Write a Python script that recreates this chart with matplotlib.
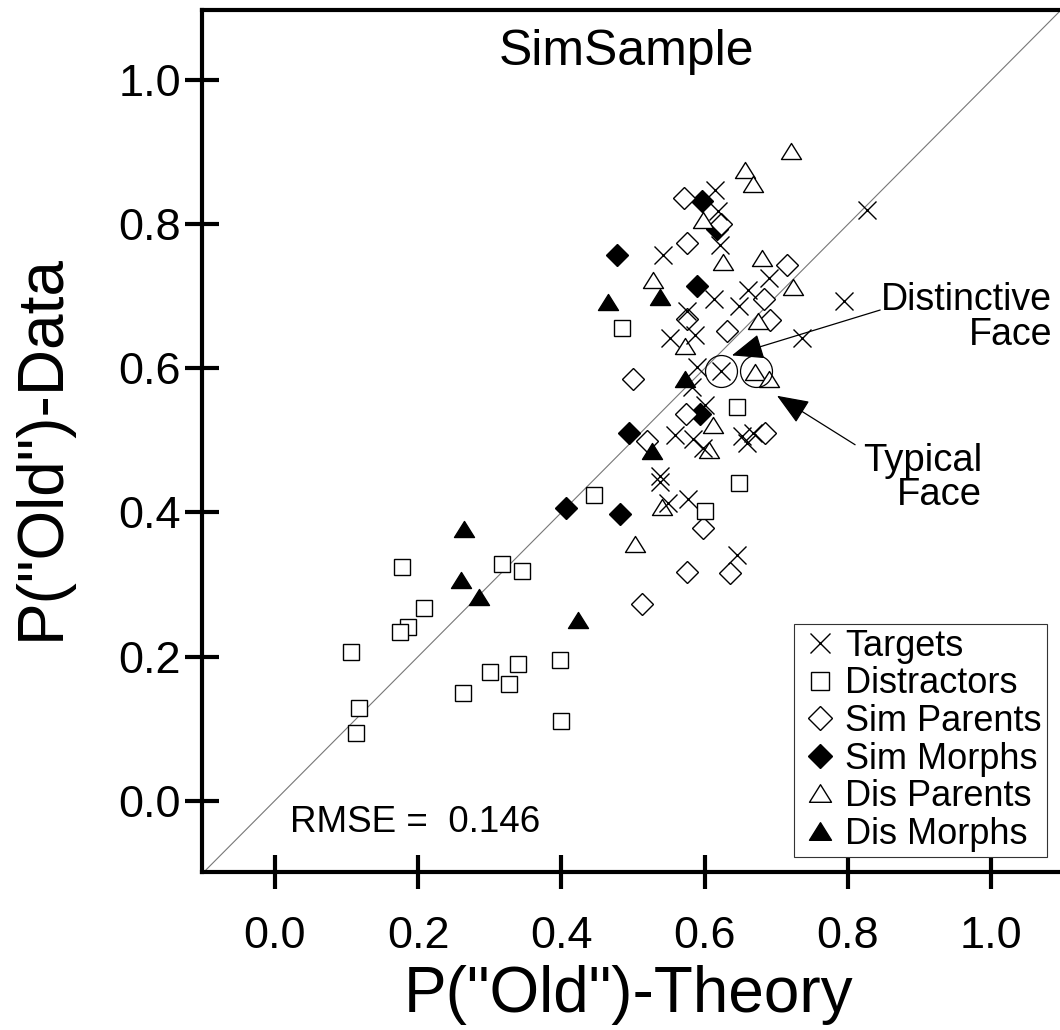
import matplotlib.pyplot as plt
from matplotlib.path import Path

plt.rcParams['font.family'] = ['Liberation Sans', 'DejaVu Sans']

# P("Old") theory (x) vs data (y), one pair of lists per item type
targets_x = [0.826, 0.794, 0.736, 0.615, 0.619, 0.622, 0.542, 0.690, 0.661, 0.648,
             0.613, 0.575, 0.587, 0.552, 0.589, 0.623, 0.582, 0.601, 0.559, 0.584,
             0.598, 0.652, 0.659, 0.668, 0.538, 0.537, 0.549, 0.577, 0.645]
targets_y = [0.820, 0.693, 0.642, 0.847, 0.818, 0.771, 0.758, 0.726, 0.709, 0.687,
             0.696, 0.679, 0.646, 0.642, 0.602, 0.597, 0.574, 0.549, 0.507, 0.502,
             0.489, 0.506, 0.496, 0.510, 0.451, 0.442, 0.413, 0.419, 0.341]

distractors_x = [0.484, 0.645, 0.648, 0.601, 0.445, 0.317, 0.345, 0.177, 0.208, 0.186,
                 0.175, 0.106, 0.118, 0.113, 0.263, 0.300, 0.340, 0.327, 0.398, 0.399]
distractors_y = [0.656, 0.546, 0.441, 0.402, 0.424, 0.329, 0.319, 0.324, 0.268, 0.241,
                 0.234, 0.206, 0.128, 0.094, 0.150, 0.179, 0.189, 0.162, 0.195, 0.111]

sim_parents_x = [0.571, 0.623, 0.576, 0.715, 0.683, 0.691, 0.575, 0.631, 0.500, 0.574,
                 0.519, 0.684, 0.597, 0.576, 0.635, 0.513]
sim_parents_y = [0.836, 0.800, 0.774, 0.744, 0.696, 0.667, 0.668, 0.652, 0.585, 0.537,
                 0.499, 0.510, 0.379, 0.317, 0.316, 0.273]

sim_morphs_x = [0.596, 0.617, 0.478, 0.589, 0.593, 0.494, 0.406, 0.482]
sim_morphs_y = [0.832, 0.793, 0.757, 0.715, 0.536, 0.511, 0.406, 0.398]

dis_parents_x = [0.720, 0.656, 0.668, 0.597, 0.626, 0.680, 0.724, 0.528, 0.675, 0.573,
                 0.670, 0.690, 0.612, 0.606, 0.541, 0.503]
dis_parents_y = [0.902, 0.875, 0.856, 0.806, 0.748, 0.753, 0.713, 0.723, 0.666, 0.631,
                 0.595, 0.585, 0.521, 0.487, 0.408, 0.356]

dis_morphs_x = [0.465, 0.537, 0.573, 0.526, 0.264, 0.260, 0.285, 0.423]
dis_morphs_y = [0.692, 0.699, 0.585, 0.486, 0.377, 0.306, 0.282, 0.251]

# circled example faces
circled_x = [0.623, 0.672]
circled_y = [0.597, 0.596]

ticks = [0.0, 0.2, 0.4, 0.6, 0.8, 1.0]
rmse = 0.146

# wider-than-tall triangle like the original plot symbol
tri = Path([(-1, -0.8), (1, -0.8), (0, 0.8), (-1, -0.8)], closed=True)

fig = plt.figure(figsize=(10.6, 10.3), dpi=100)
ax = fig.add_axes([0.191, 0.1534, 0.809, 0.8366])

ax.plot([-0.1, 1.1], [-0.1, 1.1], color='#777777', lw=0.8, zorder=1)

mew = 1.0
ax.plot(sim_morphs_x, sim_morphs_y, ls='none', marker='D', ms=10.8, mfc='black',
        mec='black', mew=mew, label='Sim Morphs', zorder=3)
ax.plot(sim_parents_x, sim_parents_y, ls='none', marker='D', ms=10.8, mfc='white',
        mec='black', mew=mew, label='Sim Parents', zorder=3)
ax.plot(distractors_x, distractors_y, ls='none', marker='s', ms=11.5, mfc='white',
        mec='black', mew=mew, label='Distractors', zorder=3)
ax.plot(dis_parents_x, dis_parents_y, ls='none', marker=tri, ms=14.4, mfc='white',
        mec='black', mew=mew, label='Dis Parents', zorder=3)
ax.plot(dis_morphs_x, dis_morphs_y, ls='none', marker=tri, ms=14.4, mfc='black',
        mec='black', mew=mew, label='Dis Morphs', zorder=3)
ax.plot(targets_x, targets_y, ls='none', marker='x', ms=13, color='black',
        mew=mew, label='Targets', zorder=4)

ax.plot(circled_x, circled_y, ls='none', marker='o', ms=23, mfc='none',
        mec='black', mew=0.9, zorder=5)

arrow = dict(arrowstyle='-|>,head_length=1.0,head_width=0.4', mutation_scale=20,
             color='black', lw=0.9, shrinkA=0, shrinkB=0)
ax.annotate('', xy=(0.638, 0.618), xytext=(0.845, 0.681), arrowprops=arrow, zorder=6)
ax.annotate('', xy=(0.701, 0.562), xytext=(0.810, 0.494), arrowprops=arrow, zorder=6)
ax.text(1.085, 0.671, 'Distinctive\nFace', ha='right', va='center',
        multialignment='right', fontsize=27, linespacing=0.95)
ax.text(0.987, 0.448, 'Typical\nFace', ha='right', va='center',
        multialignment='right', fontsize=27.5, linespacing=0.95)

ax.text(0.102, 0.0464, 'RMSE =  {:.3f}'.format(rmse), transform=ax.transAxes,
        ha='left', va='baseline', fontsize=26.5)
ax.text(0.494, 0.936, 'SimSample', transform=ax.transAxes, ha='center',
        va='baseline', fontsize=36)

ax.set_xlim(-0.101, 1.096)
ax.set_ylim(-0.099, 1.097)
ax.set_xticks(ticks)
ax.set_yticks(ticks)
ax.set_xticklabels(['{:.1f}'.format(t) for t in ticks])
ax.set_yticklabels(['{:.1f}'.format(t) for t in ticks])
ax.tick_params(axis='both', direction='inout', length=25, width=3, labelsize=32.5)
ax.tick_params(axis='x', pad=19)
ax.tick_params(axis='y', pad=3)

for side in ['left', 'bottom', 'top']:
    ax.spines[side].set_linewidth(3)
ax.spines['right'].set_visible(False)

ax.set_xlabel('P("Old")-Theory', fontsize=46, va='center')
ax.set_ylabel('P("Old")-Data', fontsize=46, va='center')
ax.xaxis.set_label_coords(0.4965, -0.143)
ax.yaxis.set_label_coords(-0.187, 0.493)

handles, labels = ax.get_legend_handles_labels()
order = ['Targets', 'Distractors', 'Sim Parents', 'Sim Morphs', 'Dis Parents', 'Dis Morphs']
hmap = dict(zip(labels, handles))
leg = ax.legend([hmap[k] for k in order], order, loc='lower left',
                bbox_to_anchor=(0.690, 0.0174), borderaxespad=0, fontsize=26,
                frameon=True, fancybox=False, edgecolor='#333333', framealpha=1,
                handlelength=1.14, handletextpad=0.12, borderpad=0.15,
                labelspacing=0.07, numpoints=1, markerscale=1.1)
leg.get_frame().set_linewidth(0.8)

plt.savefig('out.png', dpi=100)
